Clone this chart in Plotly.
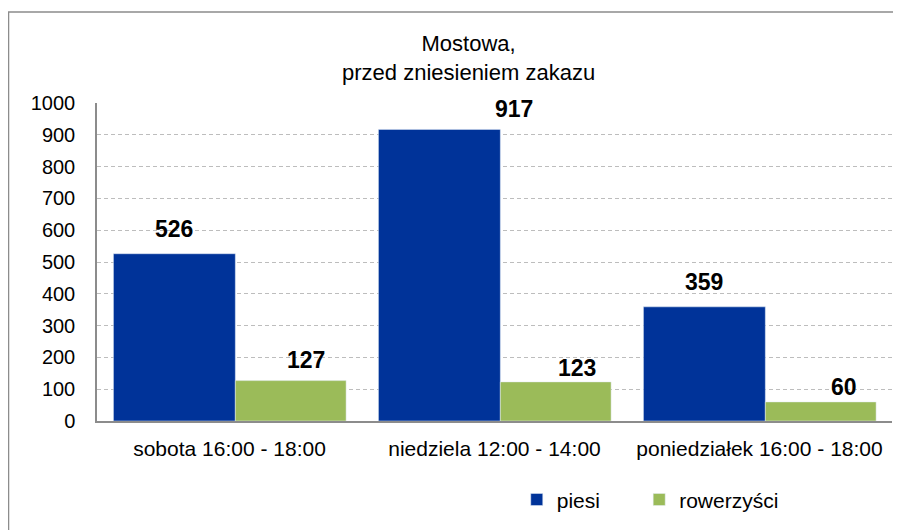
import plotly.graph_objects as go

categories = ["sobota 16:00 - 18:00", "niedziela 12:00 - 14:00", "poniedziałek 16:00 - 18:00"]
piesi = [526, 917, 359]
rowerzysci = [127, 123, 60]

BLUE = "#003399"
GREEN = "#9BBB59"
FONT = "Liberation Sans, Arial, sans-serif"

# bar geometry in category units (blue slightly wider, as in the source)
blue_off, blue_w = -0.438, 0.46
green_off, green_w = 0.022, 0.418

# manual label nudges (px) - labels were dragged around in the original
blue_nudge = [(0, 25), (75, 20), (0, 25)]
green_nudge = [(15, 21), (21, 14), (23, 15)]

fig = go.Figure()
fig.add_trace(go.Bar(x=list(range(3)), y=piesi, name="piesi", marker_color=BLUE,
                     offset=blue_off, width=blue_w, legend="legend"))
fig.add_trace(go.Bar(x=list(range(3)), y=rowerzysci, name="rowerzyści", marker_color=GREEN,
                     offset=green_off, width=green_w, legend="legend2"))

# data labels
for i in range(3):
    for vals, off, w, nudge in ((piesi, blue_off, blue_w, blue_nudge),
                                (rowerzysci, green_off, green_w, green_nudge)):
        fig.add_annotation(x=i + off + w / 2, y=vals[i], text="<b>%d</b>" % vals[i],
                           showarrow=False, xanchor="center", yanchor="middle",
                           xshift=nudge[i][0], yshift=nudge[i][1],
                           font=dict(family=FONT, size=23, color="#000"))

# title
fig.add_annotation(xref="paper", yref="paper", x=0.467, y=1.14, xanchor="center", yanchor="middle",
                   text="Mostowa,<br>przed zniesieniem zakazu", showarrow=False,
                   font=dict(family=FONT, size=22, color="#000"))

# outer chart border (runs off the right and bottom edges)
fig.add_shape(type="rect", xref="paper", yref="paper",
              x0=-0.1113, x1=1.02, y0=-0.38, y1=1.286,
              line=dict(color="#8c8c8c", width=1.5), fillcolor="rgba(0,0,0,0)", layer="below")

legend_style = dict(orientation="h", yanchor="middle", xanchor="left", y=-0.248,
                    font=dict(family=FONT, size=21), bgcolor="rgba(0,0,0,0)")

# page body has an 8px margin, so the figure is 8px smaller than the window
fig.update_layout(
    width=893, height=522,
    margin=dict(l=89, r=9, t=95, b=109),
    barmode="overlay",
    plot_bgcolor="white", paper_bgcolor="white",
    font=dict(family=FONT, size=20, color="#000"),
    showlegend=True,
    legend=dict(x=0.528, **legend_style),
    legend2=dict(x=0.682, **legend_style),
)
fig.update_xaxes(tickmode="array", tickvals=list(range(3)), ticktext=categories,
                 range=[-0.5, 2.5], showgrid=False, showline=True, linecolor="#8c8c8c",
                 linewidth=2, ticks="", ticklabelstandoff=8, zeroline=False,
                 tickfont=dict(size=21))
fig.update_yaxes(range=[0, 1000], dtick=100, showgrid=True, gridcolor="#bdbdbd",
                 griddash="4px,3px", gridwidth=1, showline=True, linecolor="#8c8c8c",
                 linewidth=1.5, ticks="", ticklabelstandoff=16, zeroline=False)

fig.write_html("out.html")
